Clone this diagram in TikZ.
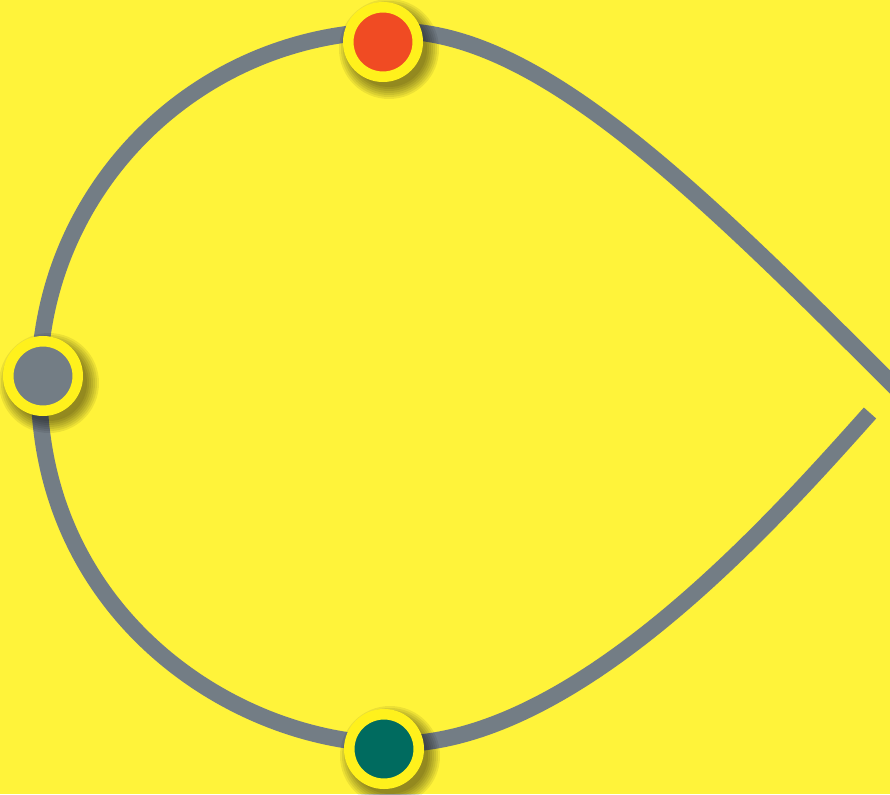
\documentclass[tikz,border=0pt]{standalone}
\usetikzlibrary{calc}
\definecolor{bgyellow}{HTML}{FFF33A}
\definecolor{ringyellow}{HTML}{FFF11C}
\definecolor{linegray}{HTML}{737D85}
\definecolor{dotred}{HTML}{F04B23}
\definecolor{dotteal}{HTML}{006B5F}
\definecolor{dotgray}{HTML}{737D85}
\tikzset{
  dotnode/.style={circle, inner sep=0pt, minimum size=69.5pt, draw=ringyellow, line width=10.5pt},
  trackline/.style={draw=linegray, line width=16.5pt},
}
\begin{document}
\begin{tikzpicture}[x=1pt,y=-1pt]
\useasboundingbox (0,0) rectangle (890,794);
\fill[bgyellow] (0,0) rectangle (890,794);
\clip (0,0) rectangle (890,794);
\coordinate (ptop) at (383,42);
\coordinate (pleft) at (43,376);
\coordinate (pbottom) at (384,749);
\coordinate (lowend) at (870,413);
\coordinate (bot) at (395,744);
\coordinate (lft) at (39,385);
\coordinate (tp) at (395,31);
\coordinate (exitpt) at (910,402);
% the track
\draw[trackline] (lowend) .. controls (770,525) and (575,744) .. (bot)
  .. controls (235,744) and (39,615) .. (lft)
  .. controls (39,189) and (198,31) .. (tp)
  .. controls (540,31) and (700,192) .. (exitpt);
% shadows
\foreach \p in {ptop,pleft,pbottom}{
  \foreach \r in {50,48,46,44,42,40,38}{
    \fill[black, opacity=0.075] ($(\p)+(6,7)$) circle (\r);
  }
}
% dots
\node[dotnode, fill=dotred] (top) at (ptop) {};
\node[dotnode, fill=dotgray] (left) at (pleft) {};
\node[dotnode, fill=dotteal] (bottom) at (pbottom) {};
\end{tikzpicture}
\end{document}
